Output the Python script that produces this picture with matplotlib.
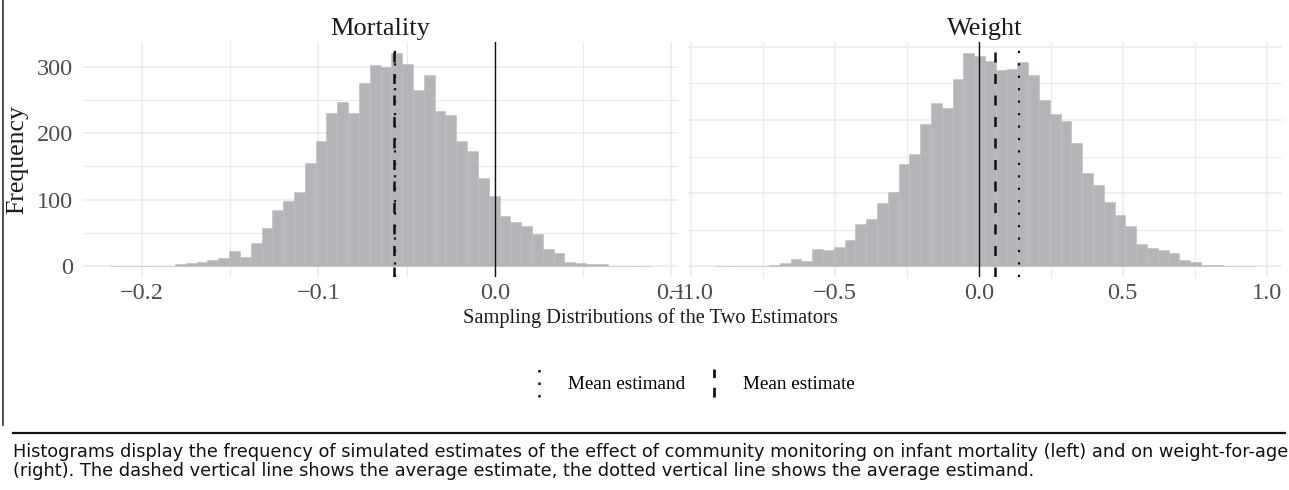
import matplotlib
matplotlib.use("Agg")
import matplotlib.pyplot as plt
import numpy as np
from matplotlib.lines import Line2D
from matplotlib.legend_handler import HandlerBase

# Counts per bin (50 bins each)
mort_counts = [1, 0, 1, 0, 1, 1, 3, 5, 7, 10,
               12, 23, 14, 35, 58, 84, 98, 111, 155, 188,
               230, 247, 230, 276, 302, 299, 321, 304, 265, 288,
               233, 227, 189, 173, 133, 106, 76, 66, 60, 49,
               26, 20, 7, 5, 4, 3, 0, 1, 0, 1]
mort_range = (-0.2182, 0.0886)

weight_counts = [1, 0, 1, 0, 1, 2, 4, 10, 7, 23,
                 22, 27, 36, 58, 65, 86, 102, 140, 153, 194,
                 223, 217, 256, 292, 287, 280, 268, 270, 279, 262,
                 227, 208, 198, 168, 128, 111, 88, 70, 55, 31,
                 25, 22, 18, 9, 6, 2, 2, 1, 1, 1]
weight_range = (-0.918, 0.960)

# Reference lines: zero, mean estimate (dashed), mean estimand (dotted)
mort_estimate = -0.0573
mort_estimand = -0.0566
weight_estimate = 0.0557
weight_estimand = 0.140

mort_ticks = [-0.2, -0.1, 0.0, 0.1]
weight_ticks = [-1.0, -0.5, 0.0, 0.5, 1.0]
y_ticks = [0, 100, 200, 300]

panel_titles = ["Mortality", "Weight"]
x_title = "Sampling Distributions of the Two Estimators"
y_title = "Frequency"
legend_labels = ["Mean estimand", "Mean estimate"]
caption = ("Histograms display the frequency of simulated estimates of the effect of community "
           "monitoring on infant mortality (left) and on weight-for-age\n(right). The dashed vertical "
           "line shows the average estimate, the dotted vertical line shows the average estimand.")

serif = ["Liberation Serif", "DejaVu Serif"]
bar_color = "#b4b5b9"
grid_color = "#ebebeb"

W, H = 1289, 490
fig = plt.figure(figsize=(W / 100, H / 100), dpi=100)


def px_axes(x0, x1, y0, y1):
    return fig.add_axes([x0 / W, 1 - y1 / H, (x1 - x0) / W, (y1 - y0) / H])


dash_style = (0, (4.0, 4.6))
dot_style = (0, (1.0, 4.6))


def fmt(v):
    return f"{v:.1f}".replace("-", "\u2212")


def draw_panel(ax, counts, rng, ticks, estimate, estimand, title, show_y):
    edges = np.linspace(rng[0], rng[1], len(counts) + 1)
    width = edges[1] - edges[0]
    ax.bar(edges[:-1], counts, width=width, align="edge", color=bar_color,
           edgecolor="#bcbdc1", linewidth=0.4, zorder=2)
    span = rng[1] - rng[0]
    ax.set_xlim(rng[0] - 0.05 * span, rng[1] + 0.05 * span)
    ymax = max(counts)
    ax.set_ylim(-0.05 * ymax, 1.05 * ymax)

    ax.axvline(0, color="#111111", lw=1.0, zorder=3)
    ax.axvline(estimand, color="#111111", lw=1.6, linestyle=dot_style, zorder=3)
    ax.axvline(estimate, color="#111111", lw=1.8, linestyle=dash_style, zorder=3)

    step = ticks[1] - ticks[0]
    ax.set_xticks(ticks)
    ax.set_xticklabels([fmt(t) for t in ticks])
    ax.set_xticks([t + step / 2 for t in ticks[:-1]], minor=True)
    ax.set_yticks(y_ticks)
    ax.set_yticks([50, 150, 250], minor=True)
    if show_y:
        ax.set_yticklabels([str(t) for t in y_ticks])
    else:
        ax.set_yticklabels([])
    ax.grid(which="major", color=grid_color, lw=1.1, zorder=0)
    ax.grid(which="minor", color=grid_color, lw=0.8, zorder=0)
    ax.set_axisbelow(True)
    ax.tick_params(which="both", length=0, labelsize=17.5, labelcolor="#4d4d4d")
    ax.tick_params(axis="x", pad=4)
    ax.tick_params(axis="y", pad=7)
    for lab in ax.get_xticklabels() + ax.get_yticklabels():
        lab.set_family(serif)
    for s in ax.spines.values():
        s.set_visible(False)
    ax.set_title(title, family=serif, fontsize=19, color="#1a1a1a", pad=5)


ax1 = px_axes(83, 678, 42, 277)
ax2 = px_axes(688, 1282, 42, 277)
draw_panel(ax1, mort_counts, mort_range, mort_ticks, mort_estimate, mort_estimand,
           panel_titles[0], True)
draw_panel(ax2, weight_counts, weight_range, weight_ticks, weight_estimate, weight_estimand,
           panel_titles[1], False)
ax1.set_ylabel(y_title, family=serif, fontsize=18.5, color="#1a1a1a", labelpad=6)

fig.text(650 / W, 1 - 318 / H, x_title, family=serif, fontsize=14.7, color="#1a1a1a",
         ha="center", va="center")


class VLineHandler(HandlerBase):
    def create_artists(self, legend, orig_handle, xdescent, ydescent, width, height,
                       fontsize, trans):
        x = width / 2 - xdescent
        line = Line2D([x, x], [-ydescent - 0.6 * height, 1.5 * height - ydescent])
        line.update_from(orig_handle)
        line.set_transform(trans)
        return [line]


handles = [Line2D([], [], color="#111111", lw=1.8, linestyle=(0, (1.0, 4.0))),
           Line2D([], [], color="#111111", lw=2.0, linestyle=(0, (3.5, 3.5)))]
fig.legend(handles, legend_labels, loc="center", bbox_to_anchor=(692 / W, 1 - 384 / H),
           ncol=2, frameon=False, handler_map={Line2D: VLineHandler()},
           prop={"family": serif, "size": 13.8}, handlelength=1.0, handletextpad=1.0,
           columnspacing=1.0)

# frame line on the left and rule above the caption
fig.add_artist(Line2D([3 / W, 3 / W], [1 - 425 / H, 1.0], color="#333333", lw=1.2))
fig.add_artist(Line2D([13 / W, 1285 / W], [1 - 433 / H, 1 - 433 / H], color="#111111", lw=1.6))

fig.text(13 / W, 1 - 443 / H, caption, family=["DejaVu Sans"],
         fontsize=12.8, color="#111111", ha="left", va="top", linespacing=1.1)

fig.savefig("out.png", dpi=100)
